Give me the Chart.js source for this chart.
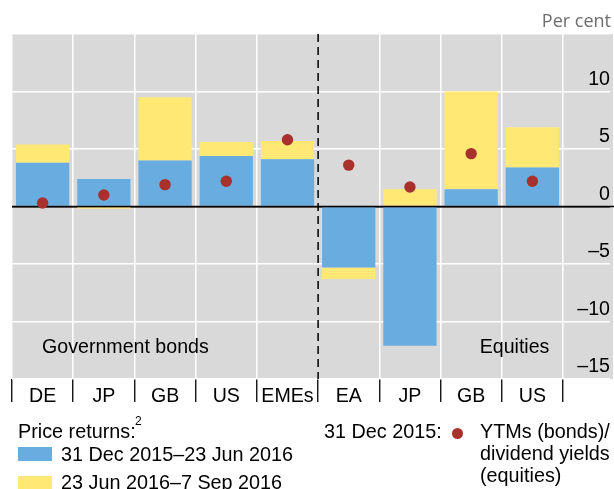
<!DOCTYPE html>
<html><head><meta charset="utf-8">
<script src="https://cdn.jsdelivr.net/npm/chart.js@4"></script>
<style>
html,body{margin:0;padding:0;background:#fff;}
#wrap{position:relative;width:614px;height:489px;overflow:hidden;font-family:"Liberation Sans",Arial,sans-serif;color:#000;}
canvas{position:absolute;left:0;top:0;}
.t{position:absolute;font-size:19.8px;line-height:22px;white-space:nowrap;}
.sw{position:absolute;width:34px;height:14px;}
#percent{position:absolute;right:3px;top:10px;font-family:"Open Sans",sans-serif;font-size:18px;line-height:20px;color:#6e6e6e;white-space:nowrap;}
#sup{position:absolute;left:135px;top:413.5px;font-size:12px;line-height:14px;}
#dot{position:absolute;left:451.8px;top:427.8px;width:11px;height:11px;border-radius:50%;}
</style></head><body>
<div id="wrap">
<canvas id="c" width="614" height="489"></canvas>
<div id="percent">Per cent</div>
<div class="t" style="left:18px;top:419.5px;">Price returns:</div>
<div id="sup">2</div>
<div class="sw" id="sw1" style="left:18px;top:447px;"></div>
<div class="t" id="lg1" style="left:61px;top:442.9px;"></div>
<div class="sw" id="sw2" style="left:18px;top:475.7px;"></div>
<div class="t" id="lg2" style="left:61px;top:470.9px;"></div>
<div class="t" style="left:324px;top:419.5px;">31 Dec 2015:</div>
<div id="dot"></div>
<div class="t" style="left:480px;top:419.5px;">YTMs (bonds)/<br>dividend yields<br>(equities)</div>
</div>
<script>
// ---- data ----
const categories = ['DE', 'JP', 'GB', 'US', 'EMEs', 'EA', 'JP', 'GB', 'US'];
const returnsToJun = [3.8, 2.4, 4.0, 4.4, 4.1, -5.3, -12.1, 1.5, 3.4];
const returnsAfterJun = [1.6, -0.2, 5.5, 1.2, 1.6, -1.0, 1.5, 8.5, 3.5];
const yieldsDec2015 = [0.3, 1.0, 1.9, 2.2, 5.8, 3.6, 1.7, 4.6, 2.2];
const yTickValues = [-15, -10, -5, 0, 5, 10, 15];
const seriesNames = ['31 Dec 2015–23 Jun 2016', '23 Jun 2016–7 Sep 2016', 'YTMs (bonds)/dividend yields (equities)'];
const groupLabels = ['Government bonds', 'Equities'];

const BLUE = '#69ace0', YELLOW = '#ffe873', RED = '#a8312d', GRAY = '#d9d9d9';
const FONT = '"Liberation Sans", Arial, sans-serif';
const FS = 19.6;

document.getElementById('lg1').textContent = seriesNames[0];
document.getElementById('lg2').textContent = seriesNames[1];
document.getElementById('sw1').style.background = BLUE;
document.getElementById('sw2').style.background = YELLOW;
document.getElementById('dot').style.background = RED;

const decor = {
  id: 'decor',
  beforeDraw(chart) {
    const {ctx, chartArea: a} = chart;
    ctx.save();
    ctx.fillStyle = GRAY;
    ctx.fillRect(a.left, a.top, chart.width - 1 - a.left, a.bottom - a.top);
    ctx.restore();
  },
  afterDatasetDraw(chart, args) {
    if (args.index !== 0) return;
    const {ctx, chartArea: a, scales: {x, y}} = chart;
    ctx.save();
    const y0 = y.getPixelForValue(0);
    ctx.strokeStyle = '#000';
    ctx.lineWidth = 1.5;
    ctx.beginPath(); ctx.moveTo(a.left, y0); ctx.lineTo(chart.width, y0); ctx.stroke();
    const xd = (x.getPixelForValue(4) + x.getPixelForValue(5)) / 2;
    ctx.setLineDash([8, 5]);
    ctx.beginPath(); ctx.moveTo(xd, a.top); ctx.lineTo(xd, a.bottom); ctx.stroke();
    ctx.setLineDash([]);
    ctx.fillStyle = '#000';
    ctx.font = FS + 'px ' + FONT;
    ctx.textBaseline = 'alphabetic';
    const yl = y.getPixelForValue(-12.72);
    ctx.textAlign = 'left';
    ctx.fillText(groupLabels[0], x.getPixelForValue(0) - 0.5, yl);
    ctx.textAlign = 'right';
    ctx.fillText(groupLabels[1], x.getPixelForValue(8) + 17, yl);
    ctx.restore();
  }
};

new Chart(document.getElementById('c'), {
  type: 'bar',
  data: {
    labels: categories,
    datasets: [
      {label: seriesNames[0], data: returnsToJun, backgroundColor: BLUE, order: 1, stack: 'r'},
      {label: seriesNames[1], data: returnsAfterJun, backgroundColor: YELLOW, order: 2, stack: 'r'},
      {type: 'line', label: seriesNames[2], data: yieldsDec2015, showLine: false, order: 0, stack: 'd',
       pointRadius: 5.7, pointBackgroundColor: RED, pointBorderWidth: 0, pointHoverRadius: 5.7}
    ]
  },
  options: {
    responsive: false,
    animation: false,
    devicePixelRatio: 1,
    events: [],
    layout: {padding: {top: 34, left: 12, right: 4, bottom: 82}},
    datasets: {bar: {categoryPercentage: 1, barPercentage: 0.87, borderWidth: 0}},
    plugins: {legend: {display: false}, tooltip: {enabled: false}, title: {display: false}},
    scales: {
      x: {
        stacked: true,
        offset: true,
        grid: {
          offset: true,
          color: ctx => ctx.index === 5 ? 'rgba(0,0,0,0)' : '#ffffff',
          lineWidth: 1.5,
          tickColor: '#000',
          tickWidth: 1.3,
          tickLength: 23,
          drawTicks: true
        },
        border: {display: false},
        ticks: {color: '#000', font: {family: FONT, size: FS}, padding: -17, maxRotation: 0, autoSkip: false},
        afterFit: s => { s.height = 28; }
      },
      y: {
        position: 'right',
        stacked: true,
        min: -15, max: 15,
        afterBuildTicks: s => { s.ticks = yTickValues.map(v => ({value: v})); },
        grid: {
          color: ctx => (ctx.tick && ctx.tick.value === 0) ? '#000' : '#ffffff',
          tickColor: ctx => (ctx.tick && ctx.tick.value === 0) ? '#000' : '#ffffff',
          lineWidth: 1.5,
          tickLength: 47,
          drawTicks: true
        },
        border: {display: false},
        ticks: {
          color: '#000', font: {family: FONT, size: FS},
          crossAlign: 'far', padding: -32, labelOffset: -12,
          callback: v => v === 15 ? '' : String(v).replace('-', '\u2013')
        },
        afterFit: s => { s.width = 47; }
      }
    }
  },
  plugins: [decor]
});
</script>
</body></html>
